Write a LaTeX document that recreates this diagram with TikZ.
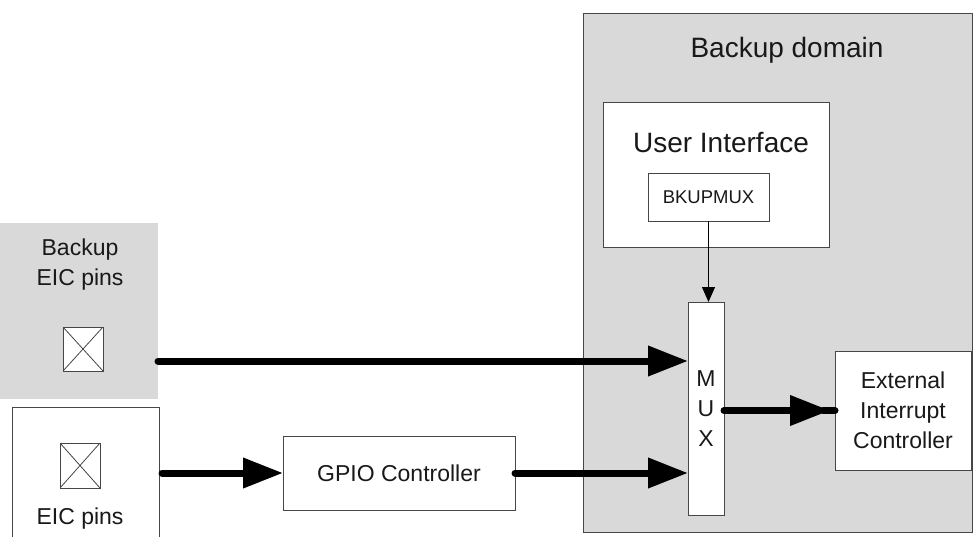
\documentclass[tikz,border=0pt]{standalone}
\usepackage{fontspec}
\setmainfont{Liberation Sans}
\usetikzlibrary{arrows.meta}
\definecolor{grayfill}{RGB}{217,217,217}
\definecolor{edge}{RGB}{70,70,70}
\begin{document}
\begin{tikzpicture}[x=1pt,y=-1pt,
  box/.style={draw=edge, line width=1pt, fill=white, inner sep=0pt, outer sep=0pt},
  gbox/.style={fill=grayfill, inner sep=0pt, outer sep=0pt},
  txt/.style={font=\fontsize{23}{30}\selectfont, align=center, inner sep=0pt, text=black!90},
  big/.style={font=\fontsize{28}{34}\selectfont, inner sep=0pt, text=black!90},
  small/.style={font=\fontsize{18.5}{22}\selectfont, inner sep=0pt, text=black!90},
  pin/.style={draw=edge, line width=0.8pt, fill=white, inner sep=0pt, outer sep=0pt,
    minimum width=40pt, minimum height=44pt,
    path picture={\draw[edge, line width=0.8pt] (path picture bounding box.north west) -- (path picture bounding box.south east)
      (path picture bounding box.north east) -- (path picture bounding box.south west);}},
  bus/.style={line width=7pt, line cap=round, -{Triangle[length=40pt,width=29pt]}},
  ctl/.style={line width=1pt, -{Triangle[length=15pt,width=13pt]}},
  ]
\useasboundingbox (0,0) rectangle (974,536);
\clip (0,0) rectangle (974,536);
% backup domain
\node[gbox, draw=edge, line width=1pt, minimum width=389pt, minimum height=519pt] (dom) at (777.5,272.5) {};
\node[big] (domt) at (787,50) {Backup domain};
% user interface
\node[box, minimum width=226pt, minimum height=145pt] (ui) at (716,174.5) {};
\node[big] (uit) at (721,143) {User Interface};
\node[box, minimum width=121pt, minimum height=48pt] (bk) at (708.5,197) {};
\node[small] (bkt) at (bk.center) {BKUPMUX};
% mux
\node[box, minimum width=36pt, minimum height=213pt] (mux) at (706,408.5) {};
\node[txt] (muxt) at (706,408.5) {M\\U\\X};
% external interrupt controller
\node[box, minimum width=136pt, minimum height=119pt] (ext) at (903,410.5) {};
\node[txt] (extt) at (903,410) {External\\Interrupt\\Controller};
% backup EIC pins
\node[gbox, minimum width=158pt, minimum height=176pt] (bup) at (79,311) {};
\node[txt] (bupt) at (80,265) {Backup\\EIC pins};
\node[pin] (pin1) at (83,349) {};
% EIC pins
\node[box, minimum width=147pt, minimum height=138pt] (eic) at (85.5,476) {};
\node[pin, minimum height=45pt] (pin2) at (80,465.5) {};
\node[txt] (eict) at (80,519) {EIC pins};
% GPIO
\node[box, minimum width=232pt, minimum height=74pt] (gpio) at (399,473) {};
\node[txt] (gpiot) at (gpio.center) {GPIO Controller};
% connectors
\coordinate (s1) at (158,361);
\coordinate (s2) at (162,473);
\draw[bus] (s1) -- (s1 -| mux.west);
\draw[bus] (s2) -- (gpio.west);
\draw[bus] (gpio.east) -- (gpio.east -| mux.west);
\draw[line width=7pt, line cap=round] ([xshift=-12pt]ext.west) -- (ext.west);
\draw[bus] (mux.east |- ext.west) -- ([xshift=-5pt]ext.west);
\draw[ctl] (bk.south) -- (bk.south |- mux.north);
\end{tikzpicture}
\end{document}
